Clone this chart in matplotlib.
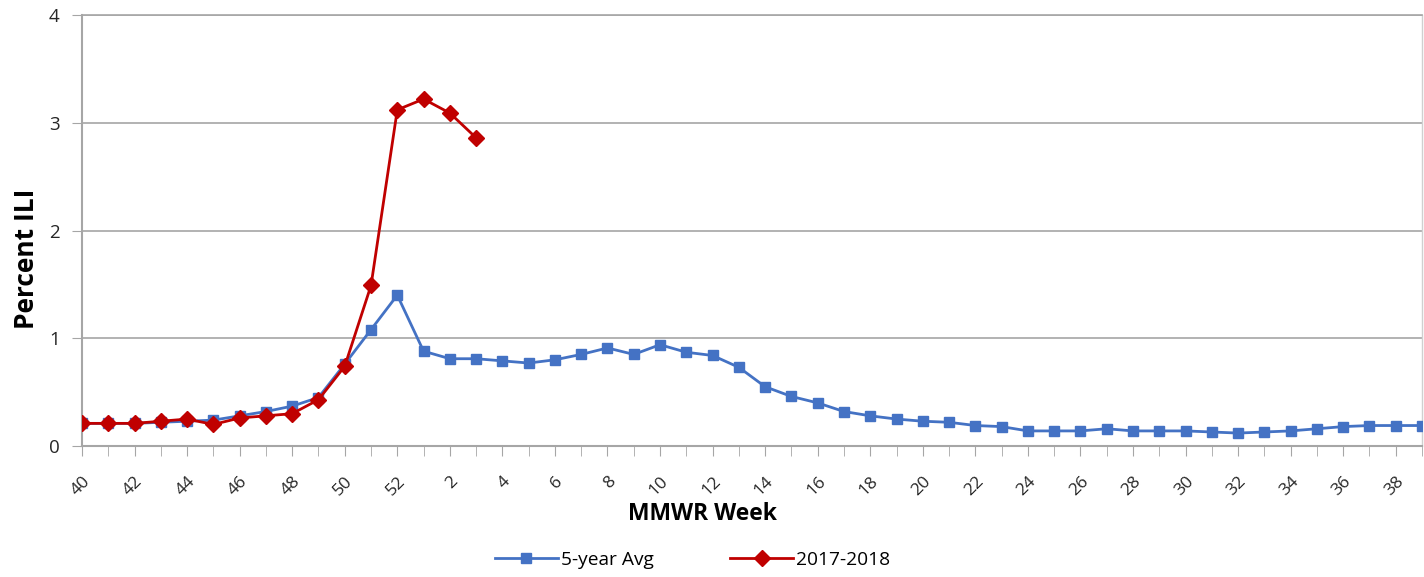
import matplotlib
matplotlib.use("Agg")
import matplotlib.pyplot as plt
import numpy as np

weeks = list(range(40, 53)) + list(range(1, 40))
avg5 = [0.21, 0.21, 0.21, 0.22, 0.23, 0.24, 0.28, 0.32, 0.37, 0.45, 0.76, 1.08, 1.40,
        0.88, 0.81, 0.81, 0.79, 0.77, 0.80, 0.85, 0.91, 0.85, 0.94, 0.87, 0.84, 0.73,
        0.55, 0.46, 0.40, 0.32, 0.28, 0.25, 0.23, 0.22, 0.19, 0.18, 0.14, 0.14, 0.14,
        0.16, 0.14, 0.14, 0.14, 0.13, 0.12, 0.13, 0.14, 0.16, 0.18, 0.19, 0.19, 0.19]
season = [0.21, 0.21, 0.21, 0.23, 0.25, 0.20, 0.26, 0.28, 0.30, 0.43, 0.74, 1.49, 3.12,
          3.22, 3.09, 2.86]
yticks = [0, 1, 2, 3, 4]

plt.rcParams['font.family'] = ['Open Sans', 'DejaVu Sans']

fig = plt.figure(figsize=(14.24, 5.77), dpi=100)
ax = fig.add_axes([82/1424, 1-446/577, 1340/1424, 431/577])

x = np.arange(len(weeks))
ax.plot(x, avg5, color='#4472C4', lw=2.0, marker='s', ms=7, label='5-year Avg', zorder=3)
ax.plot(x[:len(season)], season, color='#C00000', lw=2.0, marker='D', ms=8, label='2017-2018', zorder=4)

ax.set_xlim(0, len(weeks) - 1)
ax.set_ylim(0, 4)
ax.set_yticks(yticks)
ax.set_yticklabels([str(v) for v in yticks], fontsize=13.5, color='#262626')
ax.yaxis.grid(True, color='#A6A6A6', lw=1.2)
ax.set_axisbelow(True)

ax.set_xticks(x, minor=True)
ax.set_xticks(x[::2])
ax.set_xticklabels([str(w) for w in weeks[::2]], rotation=45, ha='right',
                   rotation_mode='anchor', fontsize=12.5, color='#262626')
ax.tick_params(axis='x', which='both', length=7, color='#A6A6A6', pad=13)
ax.tick_params(axis='y', length=7, color='#A6A6A6', pad=9)

for s in ['left', 'bottom']:
    ax.spines[s].set_color('#A6A6A6')
    ax.spines[s].set_linewidth(1.5)
ax.spines['top'].set_color('#A6A6A6')
ax.spines['top'].set_linewidth(1.2)
ax.spines['right'].set_color('#D0D0D0')
ax.spines['right'].set_linewidth(1.0)

ax.set_ylabel('Percent ILI', fontsize=19, fontweight='bold')
ax.yaxis.set_label_coords(26/1424, 1-259/577, transform=fig.transFigure)
ax.set_xlabel('MMWR Week', fontsize=16.5, fontweight='bold')
ax.xaxis.set_label_coords(702/1424, 1-514/577, transform=fig.transFigure)
ax.xaxis.label.set_va('center')
ax.yaxis.label.set_va('center')

fig.legend(loc='center', bbox_to_anchor=(692.5/1424, 1-560/577), ncol=2, frameon=False,
           fontsize=13.8, handlelength=3.3, columnspacing=4.0, handletextpad=0.15)

fig.savefig('out.png', dpi=100)
